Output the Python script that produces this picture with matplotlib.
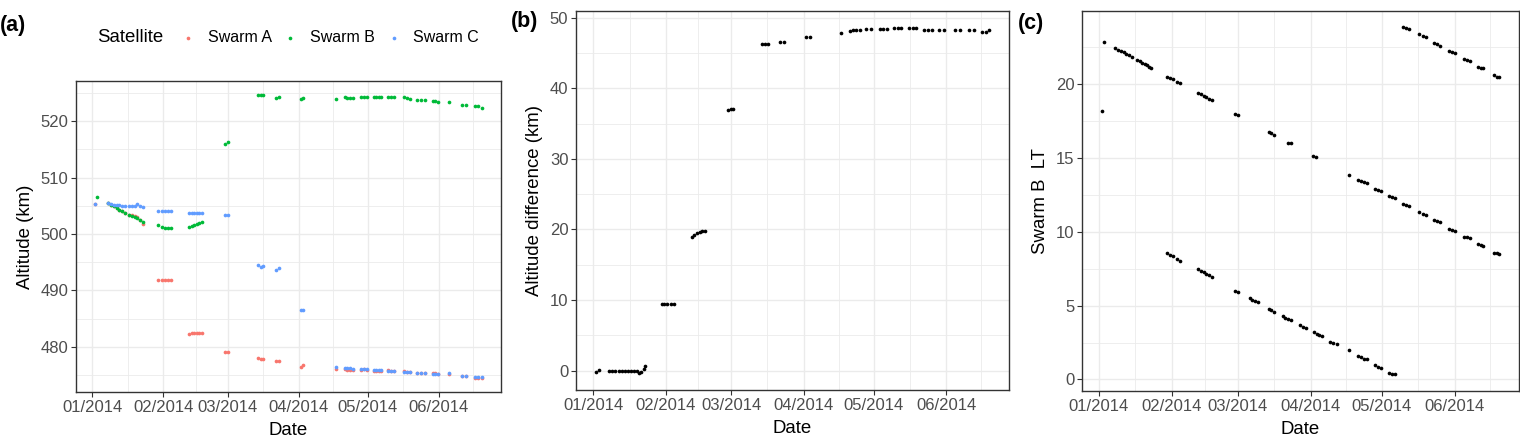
import numpy as np
import pandas as pd
import matplotlib
matplotlib.use('Agg')
import matplotlib.pyplot as plt
import matplotlib.dates as mdates
from matplotlib.ticker import MultipleLocator, FixedLocator

plt.rcParams['font.family'] = ['Liberation Sans', 'DejaVu Sans']

nan = np.nan
start = pd.Timestamp('2014-01-01')

# (a) days after 2014-01-01 and altitude (km) of each satellite
sat_days = [1.3, 2.0,
            7.0, 8.2, 9.4, 10.6, 11.8, 13.0, 14.2,
            16.0, 17.2, 18.4, 19.6, 20.8, 22.0,
            28.8, 30.2, 31.6, 33.0, 34.4,
            42.2, 43.3, 44.5, 45.5, 46.7, 47.9,
            57.8, 59.0,
            72.2, 73.3, 74.4,
            80.2, 81.3,
            91.1, 91.8,
            106.1,
            110.0, 111.2, 112.4, 113.6,
            117.0, 118.2, 119.5,
            122.7, 123.8, 124.9, 126.0,
            129.0, 130.2, 131.4,
            135.8, 137.1, 138.4,
            141.6, 143.3, 145.0,
            148.3, 149.5, 150.7,
            155.5,
            161.0, 162.8,
            166.8, 168.2, 169.7]
alt_a = [505.3, nan,
         505.5, 505.2, 504.9, 504.6, 504.3, 504.0, 503.8,
         503.4, 503.3, 503.1, 503.0, 502.4, 501.7,
         491.8, 491.8, 491.8, 491.8, 491.8,
         482.2, 482.4, 482.4, 482.4, 482.4, 482.4,
         479.1, 479.1,
         478.1, 477.9, 477.9,
         477.5, 477.5,
         476.5, 476.7,
         476.1,
         476.0, 475.9, 475.9, 475.9,
         475.9, 476.0, 475.9,
         475.8, 475.8, 475.8, 475.8,
         475.9, 475.8, 475.7,
         475.7, 475.6, 475.6,
         475.3, 475.4, 475.4,
         475.4, 475.3, 475.2,
         475.2,
         474.9, 474.9,
         474.5, 474.5, 474.5]
alt_b = [nan, 506.6,
         505.5, 505.2, 504.9, 504.6, 504.3, 504.0, 503.8,
         503.4, 503.2, 503.0, 502.8, 502.5, 502.2,
         501.6, 501.3, 501.1, 501.1, 501.1,
         501.3, 501.4, 501.6, 501.8, 502.0, 502.2,
         516.0, 516.3,
         524.6, 524.6, 524.6,
         524.1, 524.3,
         523.9, 524.1,
         524.0,
         524.3, 524.1, 524.1, 524.1,
         524.3, 524.3, 524.3,
         524.3, 524.3, 524.3, 524.3,
         524.3, 524.3, 524.3,
         524.3, 524.1, 524.0,
         523.8, 523.7, 523.7,
         523.6, 523.5, 523.3,
         523.3,
         522.9, 522.9,
         522.7, 522.6, 522.4]
alt_c = [505.3, nan,
         505.4, 505.3, 505.2, 505.1, 505.1, 505.0, 505.0,
         505.0, 505.0, 504.9, 505.3, 504.9, 504.7,
         504.1, 504.1, 504.1, 504.1, 504.1,
         503.8, 503.8, 503.8, 503.8, 503.8, 503.8,
         503.3, 503.3,
         494.5, 494.2, 494.4,
         493.7, 493.9,
         486.5, 486.5,
         476.5,
         476.3, 476.3, 476.2, 476.1,
         476.1, 476.1, 476.0,
         475.9, 475.9, 475.9, 475.9,
         475.8, 475.7, 475.7,
         475.6, 475.5, 475.5,
         475.4, 475.3, 475.3,
         475.2, 475.2, 475.2,
         475.3,
         474.9, 474.9,
         474.7, 474.7, 474.7]
sat_names = ['Swarm A', 'Swarm B', 'Swarm C']
sat_colors = ['#F8766D', '#00BA38', '#619CFF']

# (b) altitude difference (km)
diff_days = [1.0, 2.3,
             6.8, 8.1, 9.4, 10.8, 12.1, 13.4, 14.7,
             16.2, 17.4, 18.6, 19.6, 20.6, 21.5, 22.3,
             29.2, 30.4, 31.6, 33.4, 34.6,
             42.2, 43.3, 44.5, 45.5, 46.7, 47.9,
             57.8, 59.0, 59.8,
             72.0, 73.3, 74.6,
             79.8, 81.6,
             91.0, 92.6,
             105.8,
             109.7, 111.1, 112.5, 114.0,
             116.7, 119.0,
             122.8, 124.2, 125.6,
             128.9, 130.3, 131.7,
             135.3, 136.7, 138.2,
             141.7, 143.3, 145.0,
             148.0, 150.0,
             154.8, 156.9,
             160.8, 163.0,
             166.5, 168.0, 169.5]
alt_diff = [-0.2, 0.1,
            0.0, 0.0, 0.0, 0.0, 0.0, 0.0, 0.0,
            0.0, 0.0, -0.1, -0.3, -0.2, 0.2, 0.6,
            9.5, 9.5, 9.5, 9.5, 9.5,
            19.0, 19.2, 19.5, 19.6, 19.8, 19.8,
            36.9, 37.0, 37.1,
            46.3, 46.3, 46.3,
            46.5, 46.5,
            47.2, 47.2,
            47.8,
            48.1, 48.2, 48.2, 48.2,
            48.4, 48.4,
            48.4, 48.4, 48.4,
            48.5, 48.5, 48.5,
            48.5, 48.5, 48.5,
            48.3, 48.3, 48.3,
            48.2, 48.2,
            48.2, 48.2,
            48.2, 48.2,
            48.0, 48.0, 48.2]

# (c) Swarm B local time (h)
lt_days = [1.4, 2.1,
           7.0, 8.2, 9.4, 10.6, 11.8, 13.0, 14.2,
           16.2, 17.4, 18.6, 19.6, 20.6, 21.5, 22.3,
           29.2, 30.4, 31.6, 33.4, 34.6,
           29.2, 30.4, 31.6, 33.4, 34.6,
           42.2, 43.3, 44.5, 45.5, 46.7, 47.9,
           42.2, 43.3, 44.5, 45.5, 46.7, 47.9,
           57.8, 59.0, 57.8, 59.0,
           64.0, 65.2, 66.4, 67.6,
           72.2, 73.3, 74.4, 72.2, 73.3, 74.4,
           80.2, 81.6,
           78.0, 79.2, 80.4, 81.6,
           85.4, 86.6, 87.9,
           91.1, 92.3,
           91.3, 92.4, 93.5, 94.6,
           98.1, 99.5, 101.0,
           106.0, 106.0,
           110.0, 111.2, 112.4, 113.6, 110.0, 111.2, 112.4, 113.6,
           117.2, 118.5, 119.8, 117.2, 118.5, 119.8,
           123.2, 124.4, 125.6, 123.2, 124.4, 125.6,
           129.1, 130.4, 131.7, 129.1, 130.4, 131.7,
           135.9, 137.4, 139.0, 135.9, 137.4, 139.0,
           142.1, 143.4, 144.7, 142.1, 143.4, 144.7,
           148.7, 149.9, 151.0, 148.7, 149.9, 151.0,
           155.1, 156.2, 157.3, 155.1, 156.2, 157.3,
           161.0, 162.1, 163.1, 161.0, 162.1, 163.1,
           167.6, 168.7, 169.8, 167.6, 168.7, 169.8]
lt_hours = [18.2, 22.9,
            22.45, 22.36, 22.27, 22.16, 22.06, 21.96, 21.85,
            21.62, 21.55, 21.47, 21.4, 21.3, 21.2, 21.12,
            20.5, 20.42, 20.33, 20.15, 20.07,
            8.55, 8.45, 8.36, 8.16, 8.05,
            19.43, 19.33, 19.22, 19.12, 19.02, 18.93,
            7.46, 7.36, 7.25, 7.15, 7.05, 6.97,
            18.0, 17.9, 5.97, 5.9,
            5.52, 5.42, 5.32, 5.22,
            16.78, 16.68, 16.58, 4.78, 4.68, 4.6,
            16.05, 16.02,
            4.27, 4.2, 4.12, 4.05,
            3.66, 3.58, 3.5,
            15.15, 15.05,
            3.2, 3.1, 3.02, 2.96,
            2.55, 2.48, 2.42,
            13.83, 1.99,
            13.5, 13.44, 13.37, 13.3, 1.58, 1.5, 1.42, 1.36,
            12.92, 12.85, 12.78, 0.95, 0.87, 0.8,
            12.4, 12.34, 12.28, 0.41, 0.4, 0.38,
            11.88, 11.81, 11.75, 23.88, 23.8, 23.72,
            11.32, 11.22, 11.12, 23.4, 23.3, 23.2,
            10.8, 10.74, 10.67, 22.82, 22.72, 22.62,
            10.22, 10.15, 10.08, 22.28, 22.2, 22.12,
            9.68, 9.63, 9.58, 21.72, 21.66, 21.6,
            9.15, 9.1, 9.04, 21.2, 21.14, 21.08,
            8.6, 8.56, 8.53, 20.6, 20.52, 20.47]


def to_dates(days):
    return start + pd.to_timedelta(np.array(days), unit='D')


month_starts = pd.date_range('2013-12-01', '2014-08-01', freq='MS')
minor_dates = month_starts[:-1] + (month_starts[1:] - month_starts[:-1]) / 2

TICK_FS = 12
TITLE_FS = 13.4


def style(ax, ylabel, ystep):
    ax.margins(0.05)
    ax.xaxis.set_major_locator(mdates.MonthLocator())
    ax.xaxis.set_major_formatter(mdates.DateFormatter('%m/%Y'))
    ax.xaxis.set_minor_locator(FixedLocator(mdates.date2num(minor_dates.to_pydatetime())))
    ax.yaxis.set_major_locator(MultipleLocator(ystep))
    ax.yaxis.set_minor_locator(MultipleLocator(ystep / 2))
    ax.grid(which='major', color='#EBEBEB', lw=1.0)
    ax.grid(which='minor', color='#EBEBEB', lw=0.6)
    ax.set_axisbelow(True)
    for s in ax.spines.values():
        s.set_color('#333333')
        s.set_linewidth(1.0)
    ax.tick_params(which='major', length=3.5, width=0.8, color='#333333',
                   labelcolor='#4D4D4D', labelsize=TICK_FS, pad=2)
    ax.tick_params(which='minor', length=0)
    ax.set_xlabel('Date', fontsize=TITLE_FS, labelpad=5)
    ax.set_ylabel(ylabel, fontsize=TITLE_FS, labelpad=5)


W, H = 1520, 448
fig = plt.figure(figsize=(W / 100, H / 100), dpi=100)


def box(l, t, r, b):
    return [l / W, 1 - b / H, (r - l) / W, (b - t) / H]


ax1 = fig.add_axes(box(76, 81, 501, 392))
ax2 = fig.add_axes(box(576, 11, 1009, 390))
ax3 = fig.add_axes(box(1082, 11, 1519, 391))

x_sat = to_dates(sat_days)
handles = []
for alt, name, col in zip([alt_a, alt_b, alt_c], sat_names, sat_colors):
    h = ax1.scatter(x_sat, alt, s=7, color=col, linewidths=0, label=name)
    handles.append(h)
style(ax1, 'Altitude (km)', 10)

ax2.scatter(to_dates(diff_days), alt_diff, s=7, color='black', linewidths=0)
style(ax2, 'Altitude difference (km)', 10)

ax3.scatter(to_dates(lt_days), lt_hours, s=7, color='black', linewidths=0)
style(ax3, 'Swarm B  LT', 5)
ax3.set_ylim(-0.78, 24.97)

# legend above panel (a)
fig.text(97 / W, 1 - 38 / H, 'Satellite', fontsize=TITLE_FS, va='center', ha='left')
fig.legend(handles=handles, loc='center left', bbox_to_anchor=(172 / W, 1 - 38 / H),
           ncol=3, frameon=False, fontsize=11.5, borderpad=0, handlelength=1.0,
           handletextpad=0.75, columnspacing=0.65, markerscale=1.0)

for lab, x, y in [('(a)', 0, 25), ('(b)', 511, 21.5), ('(c)', 1018, 24)]:
    fig.text(x / W, 1 - y / H, lab, fontsize=15.5, fontweight='bold', va='center', ha='left')

fig.savefig('out.png', dpi=100)
